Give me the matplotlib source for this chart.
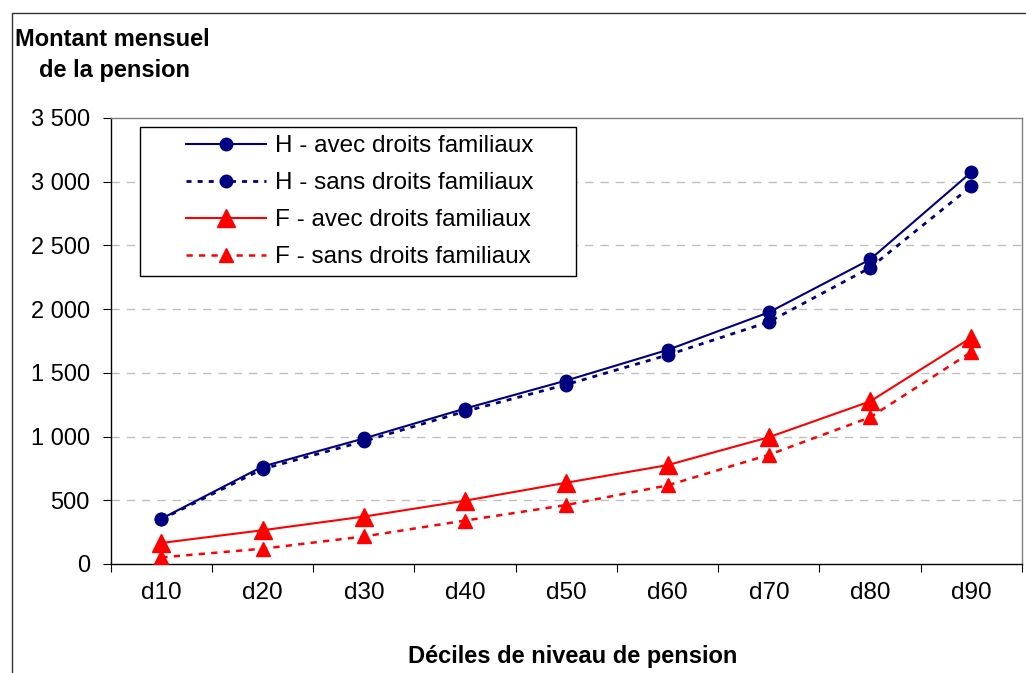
import matplotlib
matplotlib.use('agg')
import matplotlib.pyplot as plt
from matplotlib.patches import Rectangle

plt.rcParams['font.family'] = ['Liberation Sans', 'DejaVu Sans']

deciles = ['d10', 'd20', 'd30', 'd40', 'd50', 'd60', 'd70', 'd80', 'd90']
h_avec = [355, 765, 985, 1220, 1440, 1680, 1975, 2390, 3075]
h_sans = [350, 745, 963, 1198, 1408, 1640, 1900, 2325, 2965]
f_avec = [165, 265, 372, 497, 638, 776, 995, 1276, 1777]
f_sans = [52, 120, 216, 341, 463, 617, 857, 1151, 1664]
y_ticks = [0, 500, 1000, 1500, 2000, 2500, 3000, 3500]

fig = plt.figure(figsize=(10.26, 6.73), dpi=100)
W, H = 1026, 673

# outer frame (top and left edges visible)
fig.add_artist(Rectangle((12 / W, -0.05), 1.2, (1 - 13 / H) + 0.05,
                         transform=fig.transFigure, fill=False,
                         edgecolor='#333333', linewidth=1.0))

ax = fig.add_axes([110.7 / W, 1 - 564 / H, (1022 - 110.7) / W, (564 - 118) / H])

x = list(range(len(deciles)))
navy = '#000080'
red = '#ff0000'
ax.plot(x, h_avec, color=navy, lw=1.5, marker='o', ms=9,
        label='H - avec droits familiaux', zorder=4)
ax.plot(x, h_sans, color=navy, lw=2, ls=(0, (1.8, 2.2)), marker='o', ms=9,
        label='H - sans droits familiaux', zorder=3)
ax.plot(x, f_avec, color=red, lw=1.5, marker='^', ms=12.5,
        label='F - avec droits familiaux', zorder=4)
ax.plot(x, f_sans, color=red, lw=1.8, ls=(0, (2.5, 2.5)), marker='^', ms=9.5,
        label='F - sans droits familiaux', zorder=3)

ax.set_xlim(-0.5, len(deciles) - 0.5)
ax.set_ylim(0, 3500)
ax.set_yticks(y_ticks)
ax.set_yticklabels(['{:,}'.format(v).replace(',', ' ') for v in y_ticks], fontsize=17)
ax.set_xticks([i - 0.5 for i in range(len(deciles) + 1)])
ax.set_xticklabels([])
ax.set_xticks(x, minor=True)
ax.set_xticklabels(deciles, minor=True, fontsize=17.5)
ax.tick_params(axis='x', which='minor', length=0, pad=13)
ax.tick_params(axis='x', which='major', length=6, direction='out', color='black')
ax.tick_params(axis='y', length=6, direction='out', pad=9)

for v in y_ticks[1:-1]:
    ax.axhline(v, color='#c0c0c0', lw=1, ls=(0, (6, 5)), zorder=1)

ax.spines['left'].set_color('black')
ax.spines['bottom'].set_color('black')
ax.spines['top'].set_color('#808080')
ax.spines['right'].set_color('#808080')
for s in ax.spines.values():
    s.set_linewidth(1.0)

# legend frame drawn separately
ax.add_patch(Rectangle((140 / W, 1 - 276 / H), 436 / W, 149 / H,
                       transform=fig.transFigure, facecolor='white',
                       edgecolor='black', linewidth=1.0, zorder=5, clip_on=False))
leg = ax.legend(loc='upper left', bbox_to_anchor=(186 / W, 1 - 135 / H),
                bbox_transform=fig.transFigure, borderaxespad=0, borderpad=0,
                fontsize=17.5, handlelength=3.3, handletextpad=0.37,
                labelspacing=0.62, frameon=False)
leg.set_zorder(6)

fig.text(15 / W, 1 - 40 / H, 'Montant mensuel', fontsize=17, fontweight='bold',
         va='center', ha='left')
fig.text(39 / W, 1 - 71 / H, 'de la pension', fontsize=17, fontweight='bold',
         va='center', ha='left')
fig.text(573 / W, 1 - 657 / H, 'Déciles de niveau de pension', fontsize=17,
         fontweight='bold', va='center', ha='center')

fig.savefig('out.png', dpi=100)
